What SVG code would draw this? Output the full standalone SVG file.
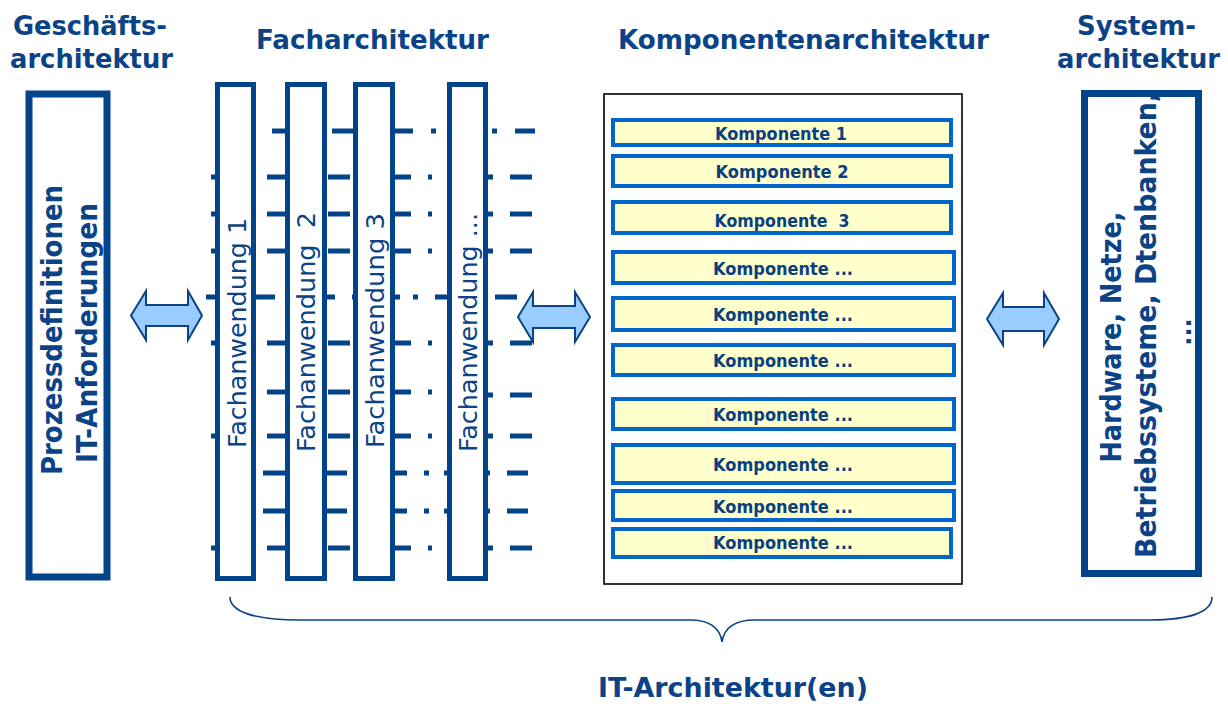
<svg xmlns="http://www.w3.org/2000/svg" width="1228" height="704" viewBox="0 0 1228 704">
<defs>
<style>
.t{font-family:"DejaVu Sans","Liberation Sans",sans-serif;fill:#0B4386;}
.title{font-size:27px;font-weight:bold}
.big{font-size:29px;font-weight:bold}
.fa{font-size:24px}
.ko{font-size:17px;font-weight:bold;text-anchor:middle;fill:#0A3F80}
.mid{text-anchor:middle}
.col{fill:#fff;stroke:#034389;stroke-width:5}
.thick{fill:#fff;stroke:#034389;stroke-width:7}
.comp{fill:#FFFFCC;stroke:#0066CC;stroke-width:4}
.dash line{stroke:#034389;stroke-width:5}
.arr{fill:#99CCFF;stroke:#0B4386;stroke-width:2}
.brace{fill:none;stroke:#0B4386;stroke-width:1.6}
</style>
</defs>
<rect width="1228" height="704" fill="#fff"/>

<g id="titles">
<text class="t title" x="13" y="35" textLength="154" lengthAdjust="spacingAndGlyphs">Geschäfts-</text>
<text class="t title" x="10" y="68" textLength="163" lengthAdjust="spacingAndGlyphs">architektur</text>
<text class="t title" x="256" y="49" textLength="233" lengthAdjust="spacingAndGlyphs">Facharchitektur</text>
<text class="t title" x="618" y="49" textLength="371" lengthAdjust="spacingAndGlyphs">Komponentenarchitektur</text>
<text class="t title" x="1077" y="35" textLength="119" lengthAdjust="spacingAndGlyphs">System-</text>
<text class="t title" x="1057" y="68" textLength="163" lengthAdjust="spacingAndGlyphs">architektur</text>
</g>

<g id="connectors" class="dash">
<g id="rowA"><line x1="272" y1="131" x2="287" y2="131"/><line x1="332" y1="131" x2="353" y2="131"/><line x1="395" y1="131" x2="413" y2="131"/><line x1="431" y1="131" x2="436" y2="131"/><line x1="492" y1="131" x2="497" y2="131"/><line x1="515" y1="131" x2="535" y2="131"/></g>
<g id="rowB"><line x1="211" y1="177" x2="217" y2="177"/><line x1="267" y1="177" x2="287" y2="177"/><line x1="328" y1="177" x2="350" y2="177"/><line x1="395" y1="177" x2="411" y2="177"/><line x1="428" y1="177" x2="432" y2="177"/><line x1="487" y1="177" x2="493" y2="177"/><line x1="510" y1="177" x2="532" y2="177"/></g>
<g id="rowC"><line x1="211" y1="214" x2="217" y2="214"/><line x1="267" y1="214" x2="287" y2="214"/><line x1="328" y1="214" x2="350" y2="214"/><line x1="395" y1="214" x2="411" y2="214"/><line x1="428" y1="214" x2="432" y2="214"/><line x1="487" y1="214" x2="493" y2="214"/><line x1="510" y1="214" x2="532" y2="214"/></g>
<g id="rowD"><line x1="211" y1="251" x2="217" y2="251"/><line x1="267" y1="251" x2="287" y2="251"/><line x1="328" y1="251" x2="350" y2="251"/><line x1="395" y1="251" x2="411" y2="251"/><line x1="428" y1="251" x2="432" y2="251"/><line x1="487" y1="251" x2="493" y2="251"/><line x1="510" y1="251" x2="532" y2="251"/></g>
<g id="rowE"><line x1="206" y1="297" x2="217" y2="297"/><line x1="254" y1="297" x2="275" y2="297"/><line x1="326" y1="297" x2="335" y2="297"/><line x1="352" y1="297" x2="357" y2="297"/><line x1="393" y1="297" x2="400" y2="297"/><line x1="413" y1="297" x2="418" y2="297"/><line x1="435" y1="297" x2="449" y2="297"/><line x1="495" y1="297" x2="517" y2="297"/></g>
<g id="rowF"><line x1="211" y1="343" x2="217" y2="343"/><line x1="267" y1="343" x2="287" y2="343"/><line x1="328" y1="343" x2="350" y2="343"/><line x1="395" y1="343" x2="411" y2="343"/><line x1="428" y1="343" x2="432" y2="343"/><line x1="487" y1="343" x2="493" y2="343"/><line x1="510" y1="343" x2="532" y2="343"/></g>
<g id="rowG"><line x1="267" y1="392" x2="287" y2="392"/><line x1="328" y1="392" x2="350" y2="392"/><line x1="395" y1="392" x2="411" y2="392"/><line x1="428" y1="392" x2="432" y2="392"/><line x1="487" y1="395" x2="493" y2="395"/><line x1="510" y1="395" x2="532" y2="395"/></g>
<g id="rowH"><line x1="211" y1="436" x2="217" y2="436"/><line x1="267" y1="436" x2="287" y2="436"/><line x1="328" y1="436" x2="350" y2="436"/><line x1="395" y1="436" x2="411" y2="436"/><line x1="428" y1="436" x2="432" y2="436"/><line x1="487" y1="436" x2="493" y2="436"/><line x1="510" y1="436" x2="532" y2="436"/></g>
<g id="rowI"><line x1="263" y1="473" x2="287" y2="473"/><line x1="327" y1="473" x2="347" y2="473"/><line x1="395" y1="473" x2="407" y2="473"/><line x1="424" y1="473" x2="429" y2="473"/><line x1="444" y1="473" x2="449" y2="473"/><line x1="487" y1="473" x2="490" y2="473"/><line x1="507" y1="473" x2="528" y2="473"/></g>
<g id="rowJ"><line x1="263" y1="511" x2="287" y2="511"/><line x1="327" y1="511" x2="347" y2="511"/><line x1="395" y1="511" x2="407" y2="511"/><line x1="424" y1="511" x2="429" y2="511"/><line x1="444" y1="511" x2="449" y2="511"/><line x1="487" y1="511" x2="490" y2="511"/><line x1="507" y1="511" x2="528" y2="511"/></g>
<g id="rowK"><line x1="211" y1="548" x2="217" y2="548"/><line x1="267" y1="548" x2="287" y2="548"/><line x1="328" y1="548" x2="350" y2="548"/><line x1="395" y1="548" x2="411" y2="548"/><line x1="428" y1="548" x2="432" y2="548"/><line x1="487" y1="548" x2="493" y2="548"/><line x1="510" y1="548" x2="532" y2="548"/></g>
</g>

<g id="geschaeft">
<rect class="thick" x="29" y="94" width="78" height="483"/>
<text class="t big mid" transform="translate(62,330) rotate(-90)" textLength="290" lengthAdjust="spacingAndGlyphs">Prozessdefinitionen</text>
<text class="t big mid" transform="translate(97,333) rotate(-90)" textLength="260" lengthAdjust="spacingAndGlyphs">IT-Anforderungen</text>
</g>

<g id="fach1">
<rect class="col" x="217.5" y="84.5" width="36" height="494"/>
<text class="t fa" transform="translate(246,448) rotate(-90)" textLength="230" lengthAdjust="spacingAndGlyphs">Fachanwendung 1</text>
</g>
<g id="fach2">
<rect class="col" x="287.5" y="84.5" width="37" height="494"/>
<text class="t fa" xml:space="preserve" transform="translate(315,452) rotate(-90)" textLength="240" lengthAdjust="spacingAndGlyphs">Fachanwendung  2</text>
</g>
<g id="fach3">
<rect class="col" x="355.5" y="84.5" width="37" height="494"/>
<text class="t fa" transform="translate(384,448) rotate(-90)" textLength="235" lengthAdjust="spacingAndGlyphs">Fachanwendung 3</text>
</g>
<g id="fach4">
<rect class="col" x="449.5" y="84.5" width="36" height="494"/>
<text class="t fa" transform="translate(477,452) rotate(-90)" textLength="239" lengthAdjust="spacingAndGlyphs">Fachanwendung ...</text>
</g>

<g id="arrows">
<path class="arr" d="M131,315.5 L146,291 L146,305 L188,305 L188,291 L202,315.5 L188,340 L188,326 L146,326 L146,340 Z"/>
<path class="arr" d="M518,317 L533,292 L533,306 L575,306 L575,292 L590,317 L575,342 L575,328 L533,328 L533,342 Z"/>
<path class="arr" d="M987,319 L1003,293 L1003,307 L1044,307 L1044,293 L1059,319 L1044,345 L1044,331 L1003,331 L1003,345 Z"/>
</g>

<g id="komponenten">
<rect x="604" y="94" width="358" height="490" fill="#fff" stroke="#000" stroke-width="1.6"/>
<g id="k1"><rect class="comp" x="613" y="120" width="338" height="25"/><text class="t ko" x="781" y="140" textLength="132" lengthAdjust="spacingAndGlyphs">Komponente 1</text></g>
<g id="k2"><rect class="comp" x="613" y="156" width="338" height="30"/><text class="t ko" x="782" y="178" textLength="133" lengthAdjust="spacingAndGlyphs">Komponente 2</text></g>
<g id="k3"><rect class="comp" x="613" y="202" width="338" height="31"/><text class="t ko" xml:space="preserve" x="782" y="227" textLength="135" lengthAdjust="spacingAndGlyphs">Komponente  3</text></g>
<g id="k4"><rect class="comp" x="613" y="252" width="341" height="31"/><text class="t ko" x="783" y="275" textLength="140" lengthAdjust="spacingAndGlyphs">Komponente ...</text></g>
<g id="k5"><rect class="comp" x="613" y="298" width="341" height="32"/><text class="t ko" x="783" y="321" textLength="140" lengthAdjust="spacingAndGlyphs">Komponente ...</text></g>
<g id="k6"><rect class="comp" x="613" y="345" width="341" height="30"/><text class="t ko" x="783" y="367" textLength="140" lengthAdjust="spacingAndGlyphs">Komponente ...</text></g>
<g id="k7"><rect class="comp" x="613" y="399" width="341" height="30"/><text class="t ko" x="783" y="421" textLength="140" lengthAdjust="spacingAndGlyphs">Komponente ...</text></g>
<g id="k8"><rect class="comp" x="613" y="445" width="341" height="38"/><text class="t ko" x="783" y="471" textLength="140" lengthAdjust="spacingAndGlyphs">Komponente ...</text></g>
<g id="k9"><rect class="comp" x="613" y="491" width="341" height="29"/><text class="t ko" x="783" y="513" textLength="140" lengthAdjust="spacingAndGlyphs">Komponente ...</text></g>
<g id="k10"><rect class="comp" x="613" y="529" width="338" height="28"/><text class="t ko" x="783" y="549" textLength="140" lengthAdjust="spacingAndGlyphs">Komponente ...</text></g>
</g>

<g id="system">
<rect class="thick" x="1084.5" y="93.5" width="114" height="480"/>
<text class="t big mid" transform="translate(1121,337) rotate(-90)" textLength="251" lengthAdjust="spacingAndGlyphs">Hardware, Netze,</text>
<text class="t big mid" transform="translate(1156,325) rotate(-90)" textLength="466" lengthAdjust="spacingAndGlyphs">Betriebssysteme, Dtenbanken,</text>
<text class="t mid" style="font-size:24px;font-weight:bold" transform="translate(1191,332) rotate(-90)">...</text>
</g>

<g id="it">
<path class="brace" d="M230,597 C230,612 255,620 300,620 L690,620 C710,620 720,628 722,642 C724,628 734,620 755,620 L1150,620 C1190,620 1212,612 1212,597"/>
<text class="t title" x="598" y="697" textLength="270" lengthAdjust="spacingAndGlyphs">IT-Architektur(en)</text>
</g>
</svg>
